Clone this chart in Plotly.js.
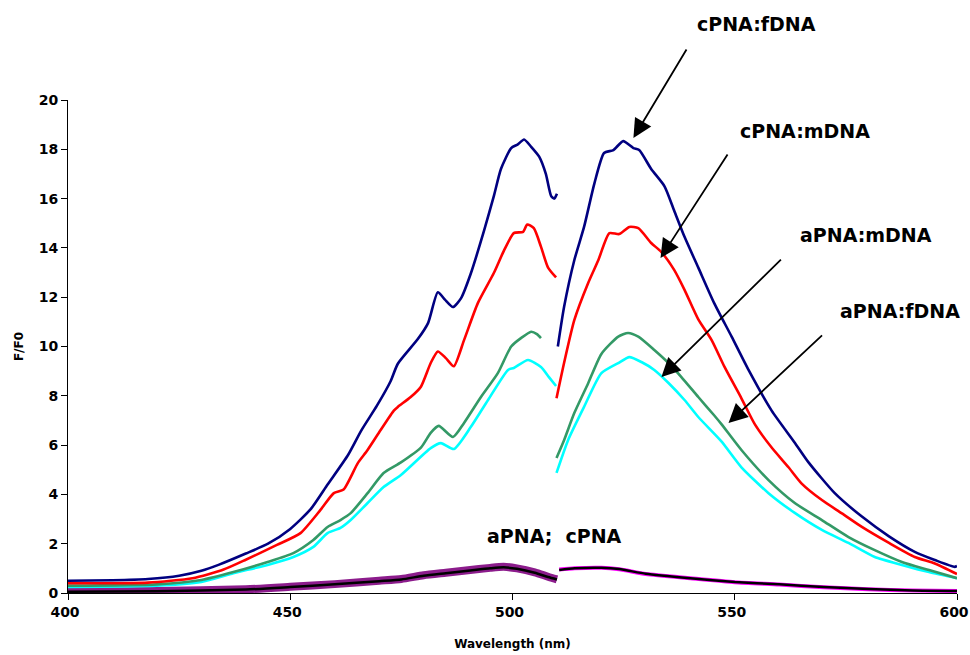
<!DOCTYPE html>
<html>
<head>
<meta charset="utf-8">
<script src="https://cdn.plot.ly/plotly-3.0.1.min.js"></script>
<style>
  html, body { margin: 0; padding: 0; background: #fff; }
  #chart { width: 970px; height: 655px; }
</style>
</head>
<body>
<div id="chart"></div>
<script>
// Fluorescence emission spectra, F/F0 versus wavelength (nm).
// Each spectrum is split in two parts around 510 nm (null = gap).

const wl_cPNA_fDNA = [400, 410, 418, 425, 430, 434, 440, 445, 450, 454.6, 458.4, 463, 466, 469.5, 472.6, 474.2, 478.7, 481, 483.2, 484.8, 486.6, 488.4, 490.6, 493.6, 495.8, 497.4, 499.7, 501.2, 502.6, 504.2, 506, 507.5, 508.7, 509.4, 510, null,
  510.2, 511.6, 513.9, 516.1, 518.4, 520.6, 522.7, 524.9, 527.2, 528.5, 531.2, 534.2, 536.4, 538.7, 541.8, 545.4, 549.3, 553.1, 558.3, 563.5, 566.6, 572.5, 578.6, 584.7, 590.5, 595, 599.5, 600];
const f_cPNA_fDNA = [0.5, 0.52, 0.57, 0.7, 0.9, 1.15, 1.6, 2.0, 2.6, 3.4, 4.4, 5.6, 6.6, 7.6, 8.6, 9.3, 10.3, 10.95, 12.2, 11.9, 11.6, 11.95, 12.95, 14.7, 16.1, 17.2, 18.05, 18.2, 18.4, 18.1, 17.7, 17.0, 16.1, 16.0, 16.2, null,
  10.0, 11.6, 13.5, 14.85, 16.6, 17.85, 17.97, 18.33, 18.05, 17.97, 17.2, 16.5, 15.5, 14.45, 13.2, 11.75, 10.4, 9.05, 7.4, 6.1, 5.3, 4.05, 3.1, 2.3, 1.67, 1.34, 1.06, 1.1];

const wl_cPNA_mDNA = [400, 418, 428, 435, 440, 447, 452.3, 456.8, 459.8, 462, 465.2, 467.4, 470.3, 473.3, 474.2, 477.1, 479.4, 481.6, 483.2, 485, 486.8, 489.1, 492.2, 495.8, 498.1, 500.3, 502.4, 503.3, 504.8, 506.4, 508, 509.8, null,
  509.9, 511.6, 513.9, 517, 519.3, 521.8, 524, 526.3, 528.3, 531.2, 533.5, 536.4, 538.7, 541.8, 544.8, 547.7, 551.5, 554.5, 558.3, 562.1, 565, 569.6, 574.1, 578.6, 584.7, 590.5, 595, 600];
const f_cPNA_mDNA = [0.4, 0.42, 0.6, 0.95, 1.35, 1.95, 2.43, 3.37, 4.05, 4.2, 5.27, 5.8, 6.6, 7.4, 7.55, 7.95, 8.37, 9.33, 9.8, 9.53, 9.2, 10.26, 11.76, 12.98, 13.9, 14.6, 14.65, 14.95, 14.8, 14.05, 13.2, 12.8, null,
  7.9, 9.33, 11.07, 12.57, 13.5, 14.6, 14.56, 14.85, 14.8, 14.2, 13.83, 13.1, 12.3, 11.1, 10.26, 9.17, 7.9, 6.85, 5.9, 5.1, 4.45, 3.77, 3.23, 2.68, 2.03, 1.46, 1.2, 0.77];

const wl_aPNA_mDNA = [400, 420, 430, 437.2, 444.9, 450.7, 455.2, 458.4, 461.3, 463.6, 467.4, 471, 474.9, 479.4, 481.6, 483.4, 486.6, 489.1, 492.9, 496.7, 499.7, 501.9, 504.2, 505.5, 506.4, null,
  509.9, 511.6, 513.9, 517, 520, 523.8, 526, 528.3, 531.9, 535.1, 538, 541.8, 545.4, 547, 551.5, 557.6, 563.5, 569.6, 575.6, 581.5, 587.6, 593.7, 600];
const f_aPNA_mDNA = [0.3, 0.35, 0.53, 0.85, 1.26, 1.62, 2.15, 2.68, 2.96, 3.24, 4.05, 4.87, 5.3, 5.9, 6.5, 6.78, 6.33, 6.9, 7.95, 8.92, 10.0, 10.34, 10.6, 10.5, 10.34, null,
  5.48, 6.2, 7.3, 8.5, 9.7, 10.4, 10.55, 10.4, 9.86, 9.33, 8.76, 7.95, 7.2, 6.85, 5.8, 4.58, 3.65, 2.96, 2.27, 1.74, 1.26, 0.93, 0.6];

const wl_aPNA_fDNA = [400, 420, 430, 437.2, 444.9, 450.7, 455.2, 458.4, 461.3, 463.6, 467.4, 471, 474.9, 481.6, 483.9, 486.8, 490.6, 494.5, 499, 500.3, 503.5, 506.4, 508.2, 509.8, null,
  509.9, 512.5, 516.1, 520, 523.8, 526.3, 529, 531.9, 535.1, 538.7, 541.8, 547, 551.5, 557.6, 563.5, 569.6, 575.6, 581.5, 587.6, 593.7, 600];
const f_aPNA_fDNA = [0.25, 0.3, 0.45, 0.8, 1.14, 1.46, 1.87, 2.43, 2.64, 2.96, 3.65, 4.3, 4.79, 5.88, 6.08, 5.84, 6.73, 7.83, 9.05, 9.13, 9.45, 9.17, 8.76, 8.4, null,
  4.87, 6.2, 7.55, 8.92, 9.33, 9.57, 9.37, 9.05, 8.52, 7.83, 7.14, 6.15, 5.1, 4.05, 3.25, 2.56, 2.03, 1.46, 1.14, 0.85, 0.6];

const wl_single = [400, 420, 440, 450, 460, 470, 475, 480, 485, 490, 495, 498, 501, 505, 508, 510, null,
  510.5, 514, 520, 524, 530, 540, 550, 560, 570, 580, 590, 600];
const f_aPNA = [0.06, 0.08, 0.15, 0.25, 0.36, 0.5, 0.57, 0.72, 0.82, 0.92, 1.02, 1.06, 1.0, 0.84, 0.66, 0.55, null,
  0.95, 1.0, 1.02, 0.96, 0.77, 0.6, 0.44, 0.34, 0.23, 0.15, 0.1, 0.08];
const f_cPNA = [0.05, 0.07, 0.14, 0.24, 0.35, 0.48, 0.55, 0.7, 0.8, 0.9, 1.0, 1.04, 0.98, 0.82, 0.65, 0.55, null,
  0.93, 1.0, 1.02, 0.97, 0.78, 0.6, 0.45, 0.35, 0.24, 0.16, 0.1, 0.08];

const labels = ['cPNA:fDNA', 'cPNA:mDNA', 'aPNA:mDNA', 'aPNA:fDNA', 'aPNA;\u00a0 cPNA'];

const FONT = 'DejaVu Sans, Arial, sans-serif';

// index of the gap separating the two parts of the single-probe spectra
const gap = wl_single.indexOf(null);

function curve(color, width) {
  return { color: color, width: width, shape: 'spline', smoothing: 0.6 };
}

const traces = [
  // aPNA: heavy purple band below 510 nm, thin magenta above
  { x: wl_single.slice(0, gap), y: f_aPNA.slice(0, gap), mode: 'lines',
    line: curve('#8c1c8c', 8), name: 'aPNA' },
  { x: wl_single.slice(gap + 1), y: f_aPNA.slice(gap + 1), mode: 'lines',
    line: curve('#ff00ff', 4), name: 'aPNA' },
  { x: wl_single, y: f_cPNA, mode: 'lines', line: curve('#000000', 2.5), name: 'cPNA' },
  { x: wl_aPNA_fDNA, y: f_aPNA_fDNA, mode: 'lines', line: curve('#00ffff', 2.6), name: 'aPNA:fDNA' },
  { x: wl_aPNA_mDNA, y: f_aPNA_mDNA, mode: 'lines', line: curve('#339966', 2.6), name: 'aPNA:mDNA' },
  { x: wl_cPNA_mDNA, y: f_cPNA_mDNA, mode: 'lines', line: curve('#ff0000', 2.6), name: 'cPNA:mDNA' },
  { x: wl_cPNA_fDNA, y: f_cPNA_fDNA, mode: 'lines', line: curve('#000080', 2.6), name: 'cPNA:fDNA' }
];

const labelFont = { family: FONT, size: 19, color: '#000', weight: 700 };

function label(text, x, y) {
  return { text: text, xref: 'paper', yref: 'paper', x: x, y: y,
    xanchor: 'center', yanchor: 'middle', showarrow: false, font: labelFont };
}
function arrow(x, y, ax, ay) {
  return { text: '', xref: 'x', yref: 'y', x: x, y: y, ax: ax, ay: ay,
    showarrow: true, arrowhead: 2, arrowsize: 2.1, arrowwidth: 1.8, arrowcolor: '#000' };
}

const tickFont = { family: FONT, size: 14, weight: 700 };
const titleFont = { family: FONT, size: 12, weight: 700 };

const layout = {
  width: 970, height: 655,
  margin: { l: 68, r: 13, t: 100, b: 62 },
  paper_bgcolor: '#fff', plot_bgcolor: '#fff',
  showlegend: false,
  font: { family: FONT, color: '#000' },
  xaxis: {
    range: [400, 600], dtick: 50, tick0: 400,
    showline: true, linecolor: '#000', linewidth: 1,
    ticks: 'outside', ticklen: 6, tickcolor: '#000',
    showgrid: false, zeroline: false,
    ticklabeloverflow: 'allow', ticklabelshift: -3,
    tickfont: tickFont,
    title: { text: 'Wavelength (nm)', font: titleFont, standoff: 20 }
  },
  yaxis: {
    range: [0, 20], dtick: 2, tick0: 0,
    showline: true, linecolor: '#000', linewidth: 1,
    ticks: 'outside', ticklen: 6, tickcolor: '#000',
    showgrid: false, zeroline: false,
    tickfont: tickFont,
    title: { text: 'F/F0', font: titleFont, standoff: 12 }
  },
  annotations: [
    label(labels[0], 0.775, 1.154),
    label(labels[1], 0.829, 0.937),
    label(labels[2], 0.898, 0.726),
    label(labels[3], 0.936, 0.572),
    label(labels[4], 0.547, 0.116),
    arrow(527.2, 18.46, 54, -90),
    arrow(533.3, 13.59, 68, -105),
    arrow(533.5, 8.76, 121, -119),
    arrow(548.6, 6.9, 95, -89)
  ]
};

Plotly.newPlot('chart', traces, layout, { displayModeBar: false, staticPlot: true });
</script>
</body>
</html>
